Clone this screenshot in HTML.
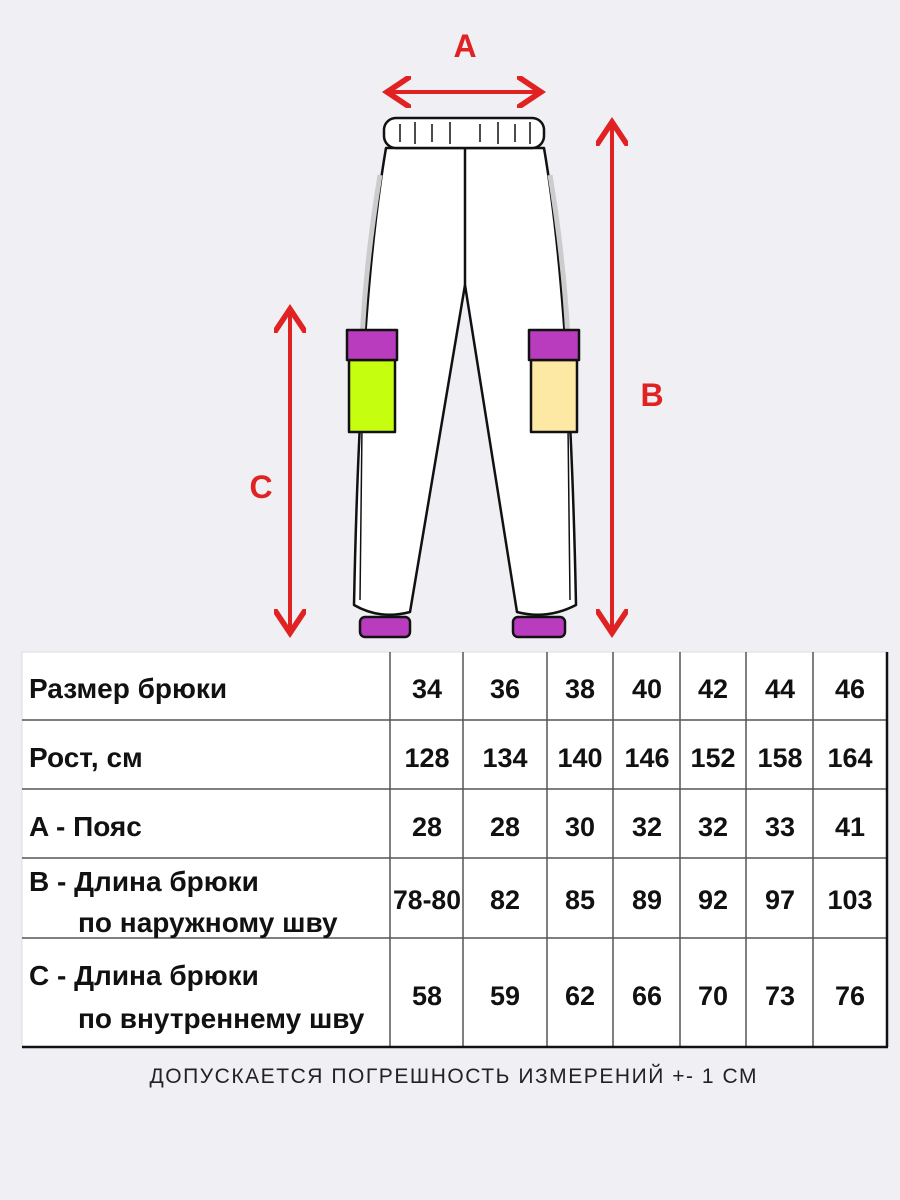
<!DOCTYPE html>
<html><head><meta charset="utf-8"><style>
body{margin:0;background:#f0eff4;}
svg{display:block;font-family:"Liberation Sans",Arial,sans-serif;}
</style></head><body>
<svg width="900" height="1200" viewBox="0 0 900 1200">
<rect width="900" height="1200" fill="#f0eff4"/>
<defs><marker id="ah" markerWidth="8" markerHeight="8" refX="6" refY="4" orient="auto-start-reverse" markerUnits="strokeWidth"><path d="M0,0 L6,4 L0,8" fill="none" stroke="#e02222" stroke-width="1.4"/></marker></defs>
<g stroke="#111" stroke-width="2.5" stroke-linejoin="round">
 <path d="M386,148 Q360,300 354,605 Q380,620 410,612 L465,285 L517,612 Q547,620 576,605 Q570,300 544,148 Z" fill="#fff"/>
 <path d="M380,175 Q366,260 362,340" fill="none" stroke="#ccc" stroke-width="5"/>
 <path d="M550,175 Q564,260 568,340" fill="none" stroke="#ccc" stroke-width="5"/>
 <path d="M363,340 L360,600 M567,340 L570,600" fill="none" stroke-width="1.5"/>
 <path d="M465,148 L465,285" fill="none"/>
 <rect x="384" y="118" width="160" height="30" rx="12" fill="#fff"/>
 <path d="M400,124 V142 M415,122 V144 M432,124 V142 M450,122 V144 M480,124 V142 M498,122 V144 M515,124 V142 M530,122 V144" stroke-width="1.5"/>
 <rect x="360" y="617" width="50" height="20" rx="5" fill="#b93cbf"/>
 <rect x="513" y="617" width="52" height="20" rx="5" fill="#b93cbf"/>
 <rect x="349" y="360" width="46" height="72" fill="#c6fe0f"/>
 <rect x="347" y="330" width="50" height="30" fill="#b93cbf"/>
 <rect x="531" y="360" width="46" height="72" fill="#fde9a4"/>
 <rect x="529" y="330" width="50" height="30" fill="#b93cbf"/>
</g>
<g stroke="#e02222" stroke-width="4" fill="none">
 <line x1="387" y1="92" x2="541" y2="92" marker-start="url(#ah)" marker-end="url(#ah)"/>
 <line x1="612" y1="122" x2="612" y2="633" marker-start="url(#ah)" marker-end="url(#ah)"/>
 <line x1="290" y1="309" x2="290" y2="633" marker-start="url(#ah)" marker-end="url(#ah)"/>
</g>
<g fill="#e02222" font-weight="bold" font-size="32" text-anchor="middle">
 <text x="465" y="57">A</text>
 <text x="652" y="406">B</text>
 <text x="261" y="498">C</text>
</g>
<g>
 <rect x="22" y="652" width="865" height="395" fill="#fff" stroke="#ddd" stroke-width="1"/>
 <g stroke="#555" stroke-width="1.5">
  <line x1="22" y1="720" x2="887" y2="720"/><line x1="22" y1="789" x2="887" y2="789"/>
  <line x1="22" y1="858" x2="887" y2="858"/><line x1="22" y1="938" x2="887" y2="938"/>
  <line x1="390" y1="652" x2="390" y2="1047"/><line x1="463" y1="652" x2="463" y2="1047"/>
  <line x1="547" y1="652" x2="547" y2="1047"/><line x1="613" y1="652" x2="613" y2="1047"/>
  <line x1="680" y1="652" x2="680" y2="1047"/><line x1="746" y1="652" x2="746" y2="1047"/>
  <line x1="813" y1="652" x2="813" y2="1047"/>
 </g>
 <line x1="22" y1="1047" x2="888" y2="1047" stroke="#111" stroke-width="2.5"/>
 <line x1="887" y1="652" x2="887" y2="1047" stroke="#111" stroke-width="2.5"/>
 <g font-weight="bold" font-size="28" fill="#111">
  <text x="29" y="698">Размер брюки</text>
  <text x="29" y="767">Рост, см</text>
  <text x="29" y="836">A - Пояс</text>
  <text x="29" y="891">B - Длина брюки</text>
  <text x="78" y="932">по наружному шву</text>
  <text x="29" y="985">C - Длина брюки</text>
  <text x="78" y="1028">по внутреннему шву</text>
 </g>
 <g font-weight="bold" font-size="27" fill="#111" text-anchor="middle">
  <text x="427" y="698">34</text><text x="505" y="698">36</text><text x="580" y="698">38</text><text x="647" y="698">40</text><text x="713" y="698">42</text><text x="780" y="698">44</text><text x="850" y="698">46</text>
  <text x="427" y="767">128</text><text x="505" y="767">134</text><text x="580" y="767">140</text><text x="647" y="767">146</text><text x="713" y="767">152</text><text x="780" y="767">158</text><text x="850" y="767">164</text>
  <text x="427" y="836">28</text><text x="505" y="836">28</text><text x="580" y="836">30</text><text x="647" y="836">32</text><text x="713" y="836">32</text><text x="780" y="836">33</text><text x="850" y="836">41</text>
  <text x="427" y="909" textLength="68" lengthAdjust="spacingAndGlyphs">78-80</text><text x="505" y="909">82</text><text x="580" y="909">85</text><text x="647" y="909">89</text><text x="713" y="909">92</text><text x="780" y="909">97</text><text x="850" y="909">103</text>
  <text x="427" y="1005">58</text><text x="505" y="1005">59</text><text x="580" y="1005">62</text><text x="647" y="1005">66</text><text x="713" y="1005">70</text><text x="780" y="1005">73</text><text x="850" y="1005">76</text>
 </g>
</g>
<text x="453" y="1083" text-anchor="middle" font-size="21" fill="#222" textLength="607" lengthAdjust="spacing">ДОПУСКАЕТСЯ ПОГРЕШНОСТЬ ИЗМЕРЕНИЙ  +- 1 СМ</text>
</svg>
</body></html>
